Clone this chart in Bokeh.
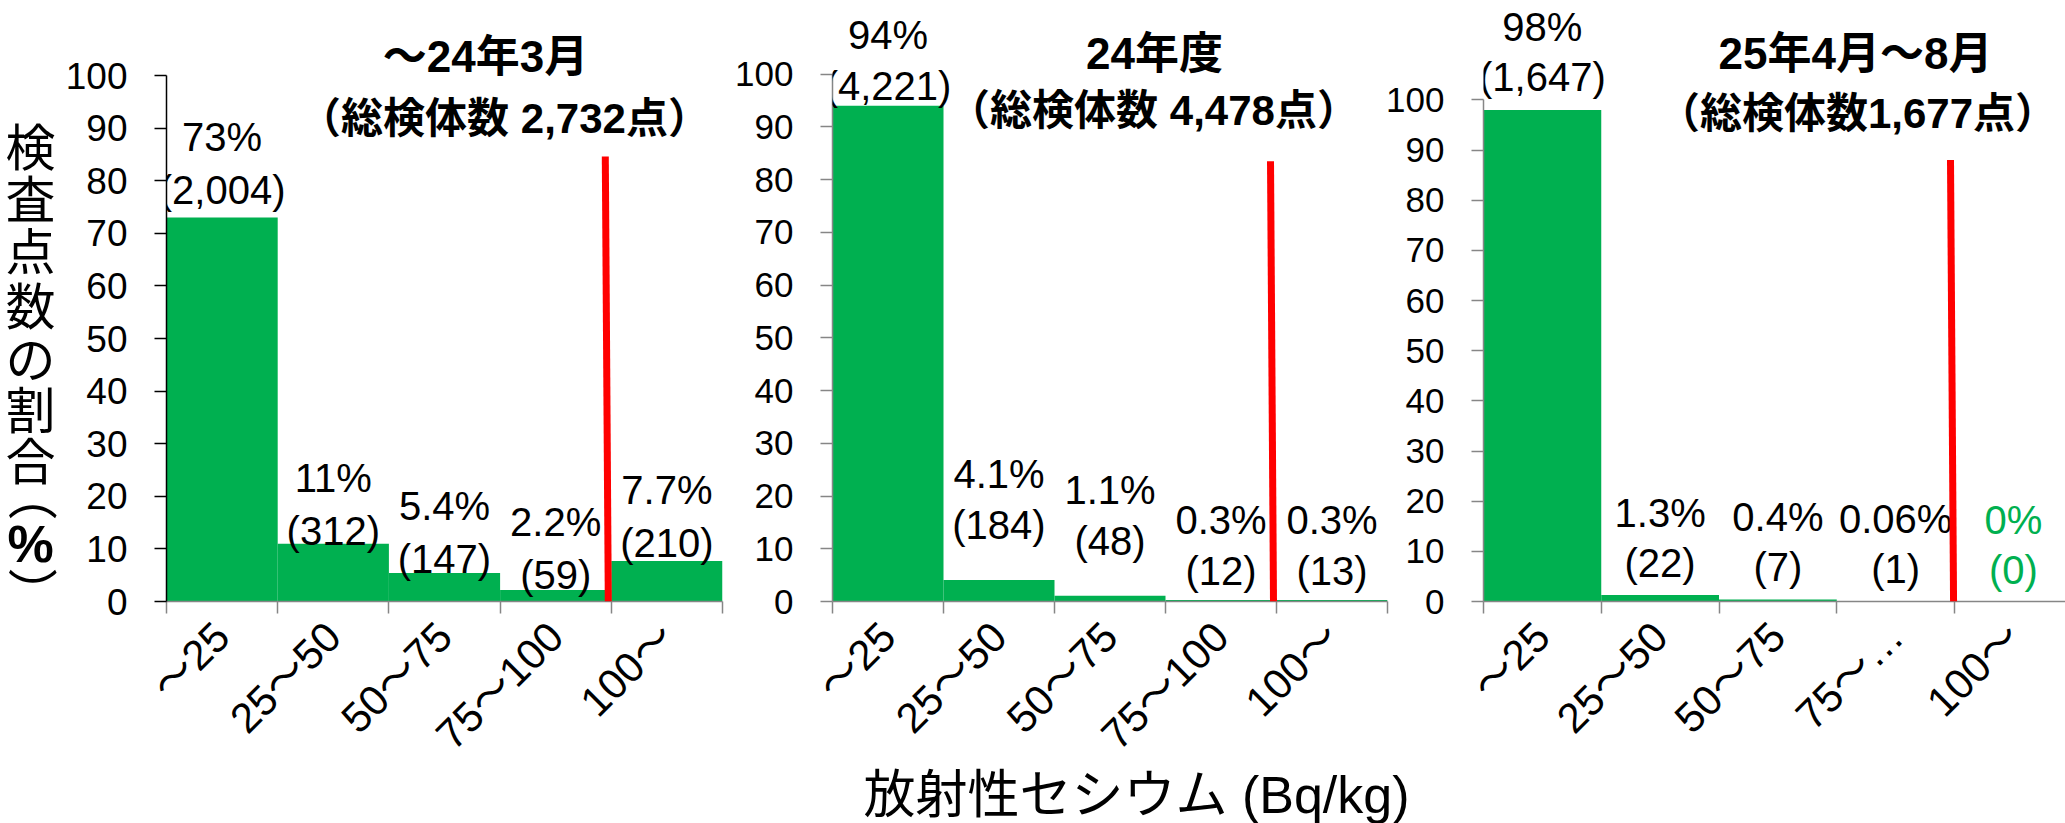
import math
from bokeh.plotting import figure
from bokeh.models import (ColumnDataSource, FixedTicker, LabelSet, Label, Arrow, Range1d)
from bokeh.layouts import row, column
from bokeh.core.properties import value, field
from bokeh.embed import file_html
from bokeh.resources import INLINE

# ---------------- data ----------------
categories = ["～25", "25～50", "50～75", "75～100", "100～"]
categories_p3 = ["～25", "25～50", "50～75", "75～…", "100～"]

pct_p1 = [73, 11, 5.4, 2.2, 7.7]
cnt_p1 = [2004, 312, 147, 59, 210]
pct_p2 = [94, 4.1, 1.1, 0.3, 0.3]
cnt_p2 = [4221, 184, 48, 12, 13]
pct_p3 = [98, 1.3, 0.4, 0.06, 0]
cnt_p3 = [1647, 22, 7, 1, 0]

title_p1 = ["～24年3月", "（総検体数 2,732点）"]
title_p2 = ["24年度", "（総検体数 4,478点）"]
title_p3 = ["25年4月～8月", "（総検体数1,677点）"]

y_ticks = [0, 10, 20, 30, 40, 50, 60, 70, 80, 90, 100]
limit_bin = 4                      # boundary of 100 Bq/kg
limit_top = [84.6, 83.5, 88.0]     # top of the red limit line (%)
limit_bottom = [0, 0, 0]

y_label_chars = ["検", "査", "点", "数", "の", "割", "合", "（", "%", "）"]
x_title = "放射性セシウム (Bq/kg)"

# ---------------- style ----------------
GREEN = "#00B050"
RED = "#FF0000"
GRAY = "#868686"
FONT = "'Liberation Sans', 'Noto Sans CJK JP'"
W, H = 2065, 823

panels = [
    dict(pct=pct_p1, cnt=cnt_p1, cats=categories, titles=title_p1,
         page_left=0, width=725, frame_left=166, frame_right=722, cat_w=111.2,
         y0=601, y100=75, ytick_size="37px", yaxis_color="black",
         lifts=[28, 13, 14, 15, 18], pitch=53, margin=(0, 0, 0, 0),
         title_xy=[(485, 56), (504, 118)], red_dx=(-0.054, -0.027),
         label_colors=["black"] * 5),
    dict(pct=pct_p2, cnt=cnt_p2, cats=categories, titles=title_p2,
         page_left=725, width=690, frame_left=832, frame_right=1387, cat_w=111.0,
         y0=620, y100=76, ytick_size="35px", yaxis_color=GRAY,
         lifts=[20, 55, 55, 29, 29], pitch=51, margin=(0, 0, 0, 0),
         title_xy=[(1154, 55), (1153, 113)], red_dx=(-0.054, -0.027),
         label_colors=["black"] * 5),
    dict(pct=pct_p3, cnt=cnt_p3, cats=categories_p3, titles=title_p3,
         page_left=1372, width=W - 1372, frame_left=1483, frame_right=W, cat_w=117.75,
         y0=617, y100=102, ytick_size="35px", yaxis_color=GRAY,
         lifts=[33, 32, 32, 32, 32], pitch=50, margin=(0, 0, 0, -43),
         title_xy=[(1855, 54), (1857, 116)], red_dx=(-0.034, -0.008),
         label_colors=["black", "black", "black", "black", GREEN]),
]


def make_panel(i, cfg):
    scale = (cfg["y0"] - cfg["y100"]) / 100.0
    cat_w = cfg["cat_w"]
    fl = cfg["frame_left"]

    def to_x(px):
        return (px - fl) / cat_w

    def to_y(py):
        return (cfg["y0"] - py) / scale

    x_end = (cfg["frame_right"] - fl) / cat_w
    y_end = cfg["y0"] / scale

    p = figure(width=cfg["width"], height=H, output_backend="svg",
               toolbar_location=None, x_range=Range1d(0, x_end),
               y_range=Range1d(0, y_end), margin=cfg["margin"])
    p.min_border = 0
    p.min_border_left = fl - cfg["page_left"]
    p.min_border_right = cfg["page_left"] + cfg["width"] - cfg["frame_right"]
    p.min_border_top = 0
    p.min_border_bottom = H - cfg["y0"]
    p.outline_line_color = None
    p.background_fill_alpha = 0
    p.border_fill_alpha = 0
    p.xgrid.visible = False
    p.ygrid.visible = False

    n = len(cfg["pct"])
    xs = [k + 0.5 for k in range(n)]
    src = ColumnDataSource(dict(
        x=xs, top=cfg["pct"],
        pct_text=[f"{v:g}%" for v in cfg["pct"]],
        cnt_text=[f"({c:,})" for c in cfg["cnt"]],
        lift_cnt=cfg["lifts"],
        lift_pct=[l + cfg["pitch"] for l in cfg["lifts"]],
        color=cfg["label_colors"],
    ))
    p.vbar(x="x", top="top", width=1.0, bottom=0, source=src,
           fill_color=GREEN, line_color=None)

    # x axis
    xa = p.xaxis[0]
    xa.ticker = FixedTicker(ticks=xs, minor_ticks=list(range(0, n + 1)))
    xa.major_label_overrides = {x: c for x, c in zip(xs, cfg["cats"])}
    xa.major_label_orientation = math.pi / 4
    xa.major_label_text_font = FONT
    xa.major_label_text_font_size = "42px"
    xa.major_label_text_color = "black"
    xa.major_label_standoff = 16
    xa.major_tick_line_color = None
    xa.major_tick_out = 0
    xa.major_tick_in = 0
    xa.minor_tick_line_color = GRAY
    xa.minor_tick_line_width = 1.5
    xa.minor_tick_out = 12
    xa.minor_tick_in = 0
    xa.axis_line_color = GRAY
    xa.axis_line_width = 1.5

    # y axis
    ya = p.yaxis[0]
    ya.ticker = FixedTicker(ticks=y_ticks, minor_ticks=[])
    ya.bounds = (0, 100)
    ya.major_label_text_font = FONT
    ya.major_label_text_font_size = cfg["ytick_size"]
    ya.major_label_text_color = "black"
    ya.major_label_standoff = 27
    ya.major_tick_out = 12
    ya.major_tick_in = 0
    ya.major_tick_line_color = cfg["yaxis_color"]
    ya.major_tick_line_width = 1.5
    ya.axis_line_color = cfg["yaxis_color"]
    ya.axis_line_width = 1.5

    # data labels
    for fld, lift in (("pct_text", "lift_pct"), ("cnt_text", "lift_cnt")):
        p.add_layout(LabelSet(x="x", y="top", text=fld, y_offset=field(lift), source=src,
                              text_font=value(FONT), text_font_size=value("40px"),
                              text_color=field("color"), text_align="center",
                              text_baseline="middle"))

    # limit line (100 Bq/kg)
    dxt, dxb = cfg["red_dx"]
    p.add_layout(Arrow(end=None, x_start=limit_bin + dxt, y_start=limit_top[i],
                       x_end=limit_bin + dxb, y_end=limit_bottom[i],
                       line_color=RED, line_width=7))

    # panel titles
    for (tx, ty), txt, fs in zip(cfg["title_xy"], cfg["titles"], ("44px", "42px")):
        p.add_layout(Label(x=to_x(tx), y=to_y(ty), text=txt, text_font=FONT,
                           text_font_size=fs, text_font_style="bold",
                           text_align="center", text_baseline="middle",
                           text_color="black"))
    return p


figs = [make_panel(i, cfg) for i, cfg in enumerate(panels)]

# overlay for the shared axis titles (page coordinates)
ov = figure(width=W, height=H, output_backend="svg", toolbar_location=None,
            x_range=Range1d(0, W), y_range=Range1d(H, 0),
            x_axis_location=None, y_axis_location=None, margin=(-H, 0, 0, 0))
ov.min_border = 0
ov.outline_line_color = None
ov.background_fill_alpha = 0
ov.border_fill_alpha = 0
ov.xgrid.visible = False
ov.ygrid.visible = False

# vertical (tategaki) y-axis title: one upright character per row,
# brackets turned a quarter turn as in vertical writing
ys = [148, 200, 252, 307, 360, 411, 462, 495, 543, 592]
for ch, yy in zip(y_label_chars, ys):
    rot = -math.pi / 2 if ch in "（）" else 0.0
    ov.add_layout(Label(x=30, y=yy, text=ch, text_font=FONT,
                        text_font_size="52px" if ch == "%" else "50px",
                        text_font_style="bold" if ch == "%" else "normal",
                        angle=rot, text_align="center", text_baseline="middle",
                        text_color="black"))
ov.add_layout(Label(x=1136, y=794, text=x_title, text_font=FONT,
                    text_font_size="52px", text_align="center",
                    text_baseline="middle", text_color="black"))

layout = column(row(*figs, spacing=0), ov, spacing=0)
open("out.html", "w").write(file_html(layout, INLINE))
